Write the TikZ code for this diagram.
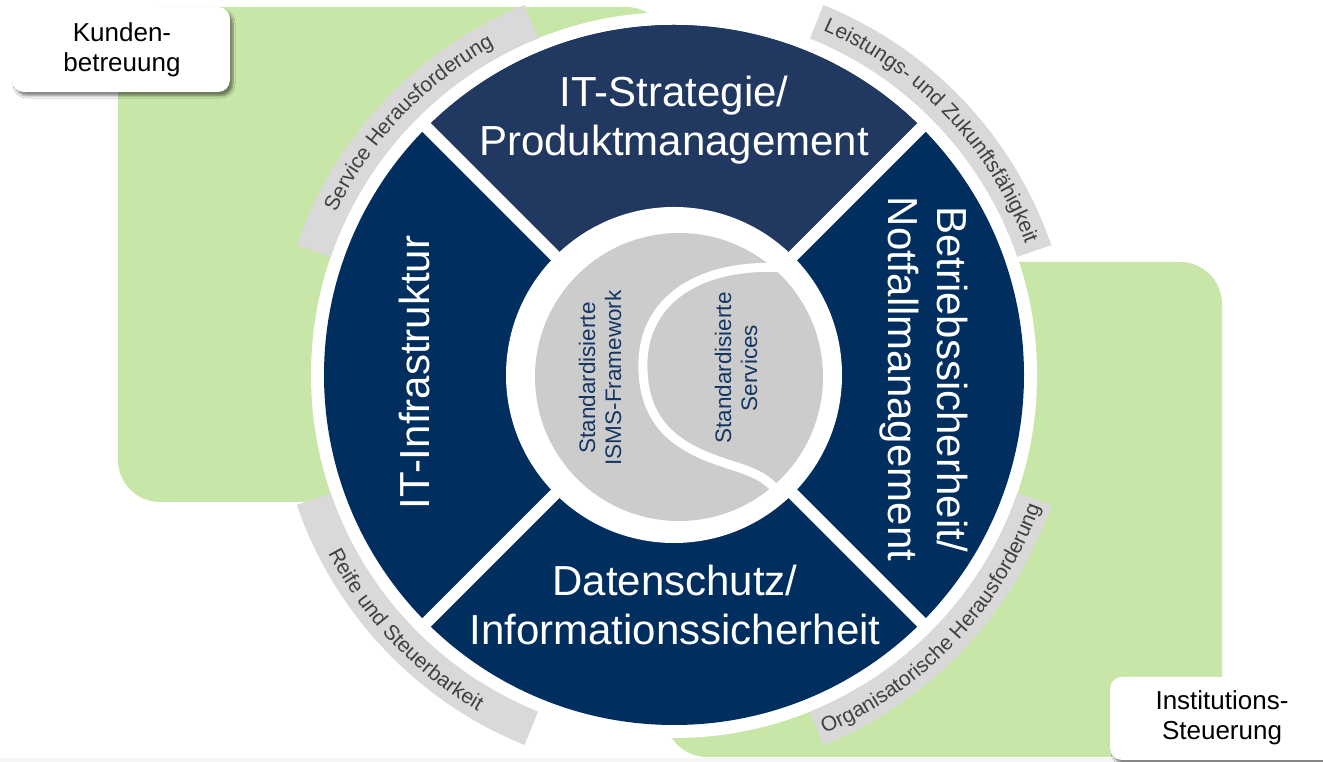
\documentclass[tikz,border=0pt]{standalone}
\usepackage{fontspec}
\setmainfont{Liberation Sans}
\usetikzlibrary{decorations.text,shadows.blur}
\definecolor{navy}{RGB}{0,47,95}
\definecolor{navytop}{RGB}{33,56,96}
\definecolor{grn}{RGB}{200,230,167}
\definecolor{bandgray}{RGB}{217,217,217}
\definecolor{bandtxt}{RGB}{64,64,64}
\definecolor{coregray}{RGB}{204,204,204}
\definecolor{coretxt}{RGB}{22,54,98}
\newcommand\segfnt{\fontsize{42}{49}\selectfont}
\newcommand\arcfnt{\fontsize{21}{24}\selectfont}
\newcommand\corefnt{\fontsize{22.5}{26}\selectfont}
\newcommand\lblfnt{\fontsize{26}{30}\selectfont}
\begin{document}
\begin{tikzpicture}[x=1pt,y=1pt,
  greenbox/.style={fill=grn, rounded corners=42pt},
  labelbox/.style={fill=white, rounded corners=12pt, blur shadow={shadow xshift=3pt, shadow yshift=-4pt, shadow blur steps=6, shadow opacity=45}},
  segtext/.style={text=white, font=\segfnt, align=center, inner sep=0pt},
  coretext/.style={text=coretxt, font=\corefnt, align=center, inner sep=0pt, rotate=90},
  lbltext/.style={text=black, font=\lblfnt, align=center, inner sep=0pt},
  band/.style={fill=bandgray},
  bandlabel/.style={decorate, decoration={text along path, text align=center, text={|\arcfnt\color{bandtxt}|#1}}},
]
\useasboundingbox (0,0) rectangle (1323,762);
\fill[white] (0,0) rectangle (1323,762);
\fill[gray!8] (0,0) rectangle (1323,4);
% green areas
\fill[greenbox] (118,260) rectangle (668,755);
\fill[greenbox] (665,5) rectangle (1222,500);
% ring
\begin{scope}[shift={(674,387)}]
  \fill[white] (0,0) circle (363);
  \foreach \s/\e in {19/68,112/161,199/248,292/341}
    \fill[band] (\s:363) arc[start angle=\s,end angle=\e,radius=363] -- (\e:399) arc[start angle=\e,end angle=\s,radius=399] -- cycle;
  \path[bandlabel={Service Herausforderung}] (161:375) arc[start angle=161,end angle=112,radius=375];
  \path[bandlabel={Leistungs- und Zukunftsfähigkeit}] (68:375) arc[start angle=68,end angle=19,radius=375];
  \path[bandlabel={Reife und Steuerbarkeit}] (199:389) arc[start angle=199,end angle=248,radius=389];
  \path[bandlabel={Organisatorische Herausforderung}] (292:389) arc[start angle=292,end angle=341,radius=389];
  \fill[navy] (0,0) circle (350);
  \fill[navytop] (0,0) -- (45:350) arc[start angle=45,end angle=135,radius=350] -- cycle;
  \foreach \a in {45,135,225,315}
    \draw[white, line width=12pt] (\a:150) -- (\a:358);
  \fill[white] (0,0) circle (168);
\end{scope}
% core
\fill[coregray] (679,385) circle (144);
\draw[white, line width=9pt] (786,494) .. controls (700,500) and (640,462) .. (643,392)
  .. controls (645,322) and (700,307) .. (740,294)
  .. controls (760,287) and (772,280) .. (778,268);
\node[coretext] (isms) at (600,384) {Standardisierte\\ISMS-Framework};
\node[coretext] (serv) at (736,394) {Standardisierte\\Services};
% segment labels
\node[segtext] (strat) at (674,642) {IT-Strategie/\\Produktmanagement};
\node[segtext, rotate=90] (infra) at (414,389.5) {IT-Infrastruktur};
\node[segtext, rotate=-90] (betrieb) at (924,383) {Betriebssicherheit/\\Notfallmanagement};
\node[segtext] (daten) at (675,157) {Datenschutz/\\Informationssicherheit};
% corner boxes
\fill[labelbox] (12,670) rectangle (230,755);
\node[lbltext] (kunden) at (122,712) {Kunden-\\betreuung};
\fill[labelbox] (1110,2) rectangle (1345,85);
\node[lbltext] (inst) at (1222,44) {Institutions-\\Steuerung};
\end{tikzpicture}
\end{document}
